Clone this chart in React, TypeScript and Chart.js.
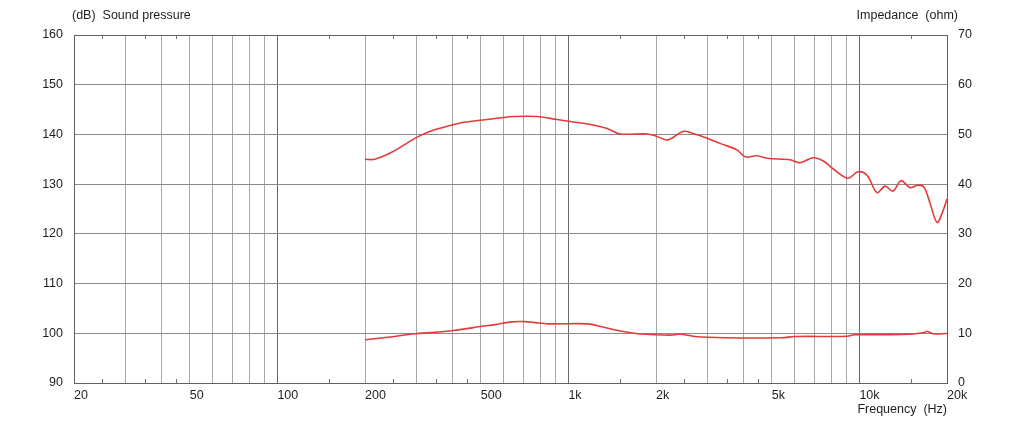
import { useEffect, useRef } from 'react';
import { Chart, registerables } from 'chart.js';

Chart.register(...registerables);

// Sound pressure curve (Hz, dB)
const splFreq = [200, 216, 247, 301, 334, 392, 434, 509, 596, 645, 780, 914, 1013, 1187, 1357, 1504, 1863, 2016, 2199, 2476, 2681, 3017, 3318, 3797, 4046, 4448, 4813, 5776, 6249, 6927, 7497, 8115, 9137, 9888, 10622, 11496, 12248, 13047, 13899, 14924, 15895, 16670, 17480, 18478, 19224, 20000];
const splDb = [135.0, 135.0, 136.4, 139.4, 140.6, 141.8, 142.4, 142.9, 143.4, 143.6, 143.6, 143.0, 142.6, 142.0, 141.2, 140.1, 140.1, 139.6, 138.9, 140.6, 140.2, 139.2, 138.2, 136.9, 135.5, 135.7, 135.2, 134.9, 134.3, 135.3, 134.7, 133.1, 131.2, 132.5, 131.8, 128.3, 129.6, 128.6, 130.7, 129.3, 129.8, 129.4, 126.2, 122.3, 124.1, 127.0];

// Impedance curve (Hz, ohm)
const impFreq = [200, 240, 297, 348, 408, 505, 559, 640, 709, 768, 851, 1168, 1304, 1528, 1735, 1984, 2300, 2420, 2723, 3450, 5400, 6000, 9100, 9600, 14000, 15900, 16800, 17100, 17900, 20000];
const impOhm = [8.7, 9.2, 9.9, 10.2, 10.6, 11.4, 11.75, 12.3, 12.35, 12.15, 11.9, 11.9, 11.3, 10.4, 9.9, 9.7, 9.65, 9.85, 9.35, 9.1, 9.1, 9.35, 9.4, 9.7, 9.75, 9.95, 10.2, 10.4, 9.9, 9.95];

// Axis definitions
const gridFreqs = [20, 30, 40, 50, 60, 70, 80, 90, 100, 200, 300, 400, 500, 600, 700, 800, 900, 1000, 2000, 3000, 4000, 5000, 6000, 7000, 8000, 9000, 10000, 20000];
const decadeFreqs = [100, 1000, 10000];
const freqLabelValues = [20, 50, 100, 200, 500, 1000, 2000, 5000, 10000, 20000];
const freqLabelTexts = ['20', '50', '100', '200', '500', '1k', '2k', '5k', '10k', '20k'];
const minorFreqs = [25, 35, 45, 150, 250, 350, 450, 1500, 2500, 3500, 4500, 15000];

const FONT = '"Liberation Sans", Arial, sans-serif';

const decorPlugin = {
  id: 'decor',
  afterDraw(chart: any) {
    const { ctx, chartArea, scales } = chart;
    ctx.save();
    ctx.strokeStyle = '#707070';
    ctx.lineWidth = 1;
    ctx.beginPath();
    minorFreqs.forEach((f) => {
      const x = Math.round(scales.x.getPixelForValue(f)) + 0.5;
      ctx.moveTo(x, chartArea.top);
      ctx.lineTo(x, chartArea.top + 4);
      ctx.moveTo(x, chartArea.bottom);
      ctx.lineTo(x, chartArea.bottom - 4);
    });
    ctx.stroke();
    ctx.fillStyle = '#1e1e1e';
    ctx.font = `12.5px ${FONT}`;
    ctx.textBaseline = 'middle';
    ctx.textAlign = 'left';
    ctx.fillText('(dB)  Sound pressure', chartArea.left - 2, 16);
    ctx.textAlign = 'right';
    ctx.fillText('Impedance  (ohm)', chartArea.right + 11, 16);
    ctx.fillText('Frequency  (Hz)', chartArea.right, 410);
    ctx.restore();
  },
};

export default function App() {
  const ref = useRef<HTMLCanvasElement | null>(null);

  useEffect(() => {
    if (!ref.current) return;
    Chart.defaults.font.family = FONT;
    const chart = new Chart(ref.current, {
      type: 'line',
      data: {
        datasets: [
          {
            label: 'Sound pressure',
            data: splFreq.map((f, i) => ({ x: f, y: splDb[i] })),
            borderColor: '#e53a3a',
            borderWidth: 1.6,
            pointRadius: 0,
            tension: 0.35,
            yAxisID: 'y',
          },
          {
            label: 'Impedance',
            data: impFreq.map((f, i) => ({ x: f, y: impOhm[i] })),
            borderColor: '#e53a3a',
            borderWidth: 1.6,
            pointRadius: 0,
            tension: 0.3,
            yAxisID: 'y1',
          },
        ],
      },
      options: {
        animation: false,
        responsive: true,
        maintainAspectRatio: false,
        layout: { padding: { top: 35, left: 0, right: 0, bottom: 0 } },
        plugins: { legend: { display: false }, tooltip: { enabled: false } },
        scales: {
          x: {
            type: 'logarithmic',
            min: 20,
            max: 20000,
            afterBuildTicks: (scale: any) => {
              scale.ticks = gridFreqs.map((v) => ({ value: v }));
            },
            afterFit: (scale: any) => {
              scale.height = 40;
            },
            ticks: {
              autoSkip: false,
              maxRotation: 0,
              minRotation: 0,
              align: 'start',
              padding: 5,
              color: '#1e1e1e',
              font: { size: 12.5 },
              callback: (value: any) => {
                const idx = freqLabelValues.indexOf(Number(value));
                return idx >= 0 ? freqLabelTexts[idx] : '';
              },
            },
            grid: {
              drawTicks: false,
              color: (c: any) => (decadeFreqs.includes(c.tick?.value) ? '#6a6a6a' : '#a8a8a8'),
            },
            border: { color: '#606060' },
          },
          y: {
            type: 'linear',
            position: 'left',
            min: 90,
            max: 160,
            afterFit: (scale: any) => {
              scale.width = 74;
            },
            ticks: { stepSize: 10, padding: 11, color: '#1e1e1e', font: { size: 12.5 } },
            grid: {
              drawTicks: false,
              color: (c: any) => (c.tick?.value === 160 ? '#606060' : '#8a8a8a'),
            },
            border: { color: '#606060' },
          },
          y1: {
            type: 'linear',
            position: 'right',
            min: 0,
            max: 70,
            afterFit: (scale: any) => {
              scale.width = 75;
            },
            ticks: { stepSize: 10, padding: 11, color: '#1e1e1e', font: { size: 12.5 } },
            grid: { drawOnChartArea: false, drawTicks: false },
            border: { color: '#606060' },
          },
        },
      },
      plugins: [decorPlugin],
    } as any);
    return () => chart.destroy();
  }, []);

  return (
    <div style={{ position: 'fixed', left: 0, top: 0, width: 1022, height: 423, background: '#fff' }}>
      <canvas ref={ref} />
    </div>
  );
}
